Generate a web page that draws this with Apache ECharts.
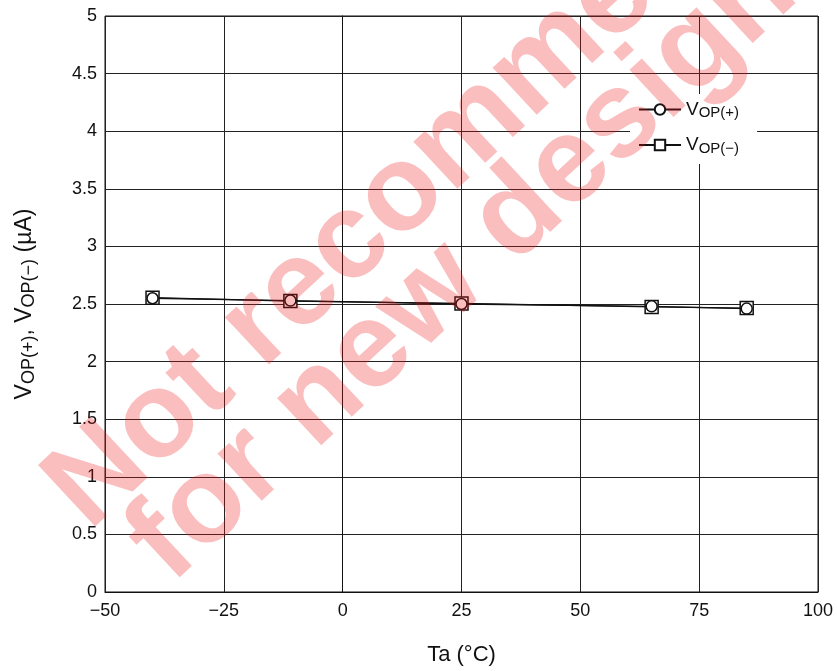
<!DOCTYPE html>
<html><head><meta charset="utf-8">
<script src="https://cdn.jsdelivr.net/npm/echarts@6/dist/echarts.min.js"></script>
<style>html,body{margin:0;padding:0;background:#fff}#c{width:837px;height:671px}</style>
</head><body><div id="c"></div>
<script>
const temps = [-40, -11, 25, 65, 85];
const vopPlus = [2.55, 2.53, 2.50, 2.48, 2.46];
const vopMinus = [2.555, 2.525, 2.505, 2.475, 2.465];
const xTicks = [-50, -25, 0, 25, 50, 75, 100];
const yTicks = [0, 0.5, 1, 1.5, 2, 2.5, 3, 3.5, 4, 4.5, 5];
const seriesNames = ['VOP(+)', 'VOP(\u2212)'];
const watermarkLines = ['Not recommended', 'for new designs'];

const FONT = 'Liberation Sans, Arial, sans-serif';
const chart = echarts.init(document.getElementById('c'));
const legRich = {
  v: {fontFamily: FONT, fontSize: 19, color: '#111', lineHeight: 22},
  s: {fontFamily: FONT, fontSize: 15, color: '#111', lineHeight: 15, verticalAlign: 'bottom'}
};
const axRich = {
  v: {fontFamily: FONT, fontSize: 23, color: '#111', lineHeight: 27},
  s: {fontFamily: FONT, fontSize: 18, color: '#111', lineHeight: 18, verticalAlign: 'bottom'}
};
function fmtX(v){ return v < 0 ? '\u2212' + Math.abs(v) : String(v); }
const wmFill = 'rgba(240,20,20,0.28)';
const wmFont = 'bold 122px ' + FONT;
const wmRot = 43 * Math.PI / 180;
chart.setOption({
  animation: false,
  backgroundColor: '#fff',
  grid: {left: 105, right: 19, top: 16, bottom: 79, show: true, borderColor: '#111', borderWidth: 1},
  xAxis: {
    type: 'value', min: xTicks[0], max: xTicks[xTicks.length-1], interval: 25,
    axisLine: {show: true, lineStyle: {color: '#111', width: 1}},
    axisTick: {show: false},
    splitLine: {show: true, lineStyle: {color: '#222', width: 1}},
    axisLabel: {formatter: fmtX, fontFamily: FONT, fontSize: 18, color: '#111', margin: 10},
    name: 'Ta (\u00B0C)', nameLocation: 'middle', nameGap: 52,
    nameTextStyle: {fontFamily: FONT, fontSize: 22, color: '#111'}
  },
  yAxis: {
    type: 'value', min: yTicks[0], max: yTicks[yTicks.length-1], interval: 0.5,
    axisLine: {show: true, lineStyle: {color: '#111', width: 1}},
    axisTick: {show: false},
    splitLine: {show: true, lineStyle: {color: '#222', width: 1}},
    axisLabel: {fontFamily: FONT, fontSize: 18, color: '#111', margin: 8},
    name: '{v|V}{s|OP(+)}{v|, V}{s|OP(\u2212)}{v| (\u00B5A)}',
    nameLocation: 'middle', nameGap: 67,
    nameTextStyle: {rich: axRich}
  },
  legend: {
    data: seriesNames, orient: 'vertical', left: 630, top: 94,
    backgroundColor: '#fff', padding: [6, 18, 8, 8], itemGap: 15,
    itemWidth: 42, itemHeight: 13,
    formatter: function(n){ return '{v|V}{s|' + n.slice(1) + '}'; },
    textStyle: {rich: legRich}
  },
  series: [
    {name: seriesNames[1], type: 'line', data: temps.map((t,i)=>[t, vopMinus[i]]),
     symbol: 'rect', symbolSize: 13, z: 3,
     lineStyle: {color: '#111', width: 1.3},
     itemStyle: {color: '#fff', borderColor: '#111', borderWidth: 1.5}},
    {name: seriesNames[0], type: 'line', data: temps.map((t,i)=>[t, vopPlus[i]]),
     symbol: 'circle', symbolSize: 11, z: 4,
     lineStyle: {color: '#111', width: 1.3},
     itemStyle: {color: '#fff', borderColor: '#111', borderWidth: 1.5}}
  ],
  graphic: [
    {type: 'text', x: 108, y: 552, rotation: wmRot, z: 100, silent: true,
     style: {text: watermarkLines[0], font: wmFont, fill: wmFill, textVerticalAlign: 'bottom'}},
    {type: 'text', x: 190, y: 605, rotation: wmRot, z: 100, silent: true,
     style: {text: watermarkLines[1], font: wmFont, fill: wmFill, textVerticalAlign: 'bottom'}}
  ]
});
</script></body></html>
